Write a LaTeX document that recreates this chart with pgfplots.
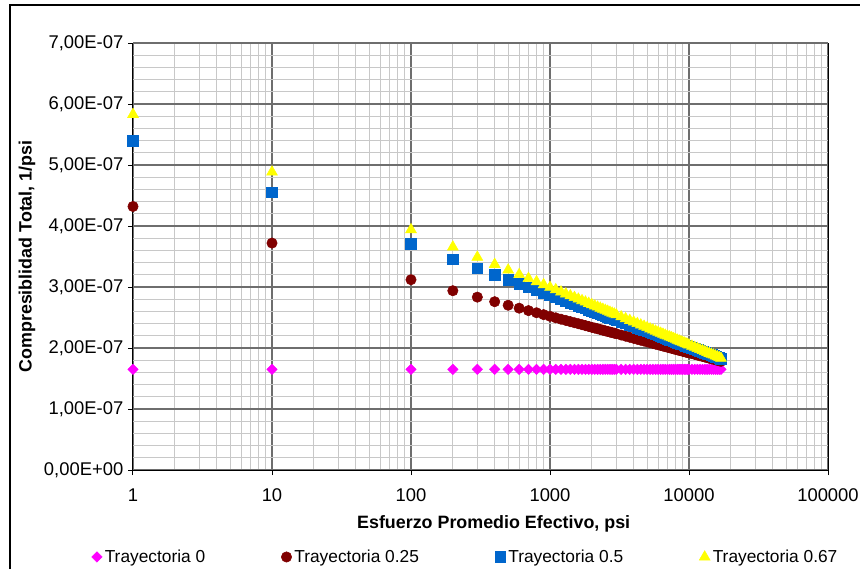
\documentclass[border=0pt]{standalone}
\usepackage{fontspec}
\setmainfont{Liberation Sans}
\usepackage{pgfplots}
\pgfplotsset{compat=1.18}
\usepackage{pgfplotstable}

\definecolor{cmag}{RGB}{255,0,255}
\definecolor{cred}{RGB}{128,0,0}
\definecolor{cblue}{RGB}{0,102,204}
\definecolor{cyel}{RGB}{255,255,0}
\definecolor{majgrid}{RGB}{110,110,110}
\definecolor{mingrid}{RGB}{200,200,200}

\pgfplotstableread{
x z r b y
1 1.65 4.320 5.400 5.830
10 1.65 3.720 4.555 4.885
100 1.65 3.120 3.710 3.940
200 1.65 2.939 3.456 3.656
300 1.65 2.834 3.307 3.489
400 1.65 2.759 3.201 3.371
500 1.65 2.701 3.119 3.279
600 1.65 2.653 3.052 3.205
700 1.65 2.613 2.996 3.141
800 1.65 2.578 2.947 3.087
900 1.65 2.547 2.904 3.038
1000 1.65 2.520 2.865 2.995
1100 1.65 2.495 2.830 2.956
1200 1.65 2.472 2.798 2.920
1300 1.65 2.452 2.769 2.887
1400 1.65 2.432 2.742 2.857
1500 1.65 2.414 2.716 2.829
1600 1.65 2.398 2.693 2.802
1700 1.65 2.382 2.670 2.777
1800 1.65 2.367 2.649 2.754
1900 1.65 2.353 2.629 2.732
2000 1.65 2.339 2.611 2.711
2100 1.65 2.327 2.593 2.690
2200 1.65 2.315 2.576 2.671
2300 1.65 2.303 2.559 2.653
2400 1.65 2.292 2.544 2.636
2500 1.65 2.281 2.529 2.619
2600 1.65 2.271 2.514 2.603
2700 1.65 2.261 2.500 2.587
2800 1.65 2.252 2.487 2.572
2900 1.65 2.243 2.474 2.558
3000 1.65 2.234 2.462 2.544
3250 1.65 2.213 2.432 2.511
3500 1.65 2.194 2.405 2.481
3750 1.65 2.176 2.380 2.453
4000 1.65 2.159 2.356 2.426
4250 1.65 2.143 2.334 2.401
4500 1.65 2.128 2.313 2.378
4750 1.65 2.114 2.293 2.356
5000 1.65 2.101 2.274 2.335
5250 1.65 2.088 2.256 2.314
5500 1.65 2.076 2.239 2.295
5750 1.65 2.064 2.223 2.277
6000 1.65 2.053 2.207 2.260
6250 1.65 2.042 2.192 2.243
6500 1.65 2.032 2.178 2.227
6750 1.65 2.022 2.164 2.211
7000 1.65 2.013 2.151 2.196
7250 1.65 2.004 2.138 2.182
7500 1.65 1.995 2.126 2.168
7750 1.65 1.986 2.114 2.155
8000 1.65 1.978 2.102 2.142
8250 1.65 1.970 2.091 2.129
8500 1.65 1.962 2.080 2.117
8750 1.65 1.955 2.069 2.105
9000 1.65 1.947 2.059 2.093
9250 1.65 1.940 2.049 2.082
9500 1.65 1.933 2.039 2.071
9750 1.65 1.927 2.029 2.060
10000 1.65 1.920 2.020 2.050
10500 1.65 1.907 2.002 2.030
11000 1.65 1.895 1.985 2.011
11500 1.65 1.884 1.969 1.993
12000 1.65 1.872 1.953 1.975
12500 1.65 1.862 1.938 1.958
13000 1.65 1.852 1.924 1.942
13500 1.65 1.842 1.910 1.927
14000 1.65 1.832 1.897 1.912
14500 1.65 1.823 1.884 1.898
15000 1.65 1.814 1.871 1.884
15500 1.65 1.806 1.859 1.870
16000 1.65 1.798 1.848 1.857
16500 1.65 1.790 1.836 1.844
17000 1.65 1.782 1.825 1.832
}\datatable

\begin{document}
\begin{tikzpicture}
\useasboundingbox (0pt,0pt) rectangle (645pt,426.75pt);
\draw[line width=1pt] (7.5pt,0pt) -- (7.5pt,423pt) -- (646pt,423pt);
\begin{axis}[
  at={(99.75pt,74.25pt)}, anchor=south west,
  scale only axis, width=521.25pt, height=320.25pt,
  xmode=log, log basis x=10,
  xmin=1, xmax=100000, ymin=0, ymax=7,
  clip=false,
  axis lines*=left,
  axis line style={-, black, line width=0.75pt},
  tick align=outside,
  major tick length=3.75pt, minor tick length=0pt,
  tick style={black, line width=0.75pt},
  xtick={1,10,100,1000,10000,100000},
  xticklabels={1,10,100,1000,10000,100000},
  minor xtick={2,3,4,5,6,7,8,9,20,30,40,50,60,70,80,90,200,300,400,500,600,700,800,900,2000,3000,4000,5000,6000,7000,8000,9000,20000,30000,40000,50000,60000,70000,80000,90000},
  ytick={0,1,2,3,4,5,6,7},
  yticklabels={{0,00E+00},{1,00E-07},{2,00E-07},{3,00E-07},{4,00E-07},{5,00E-07},{6,00E-07},{7,00E-07}},
  minor y tick num=4,
  grid=both,
  major grid style={majgrid, line width=0.9pt},
  minor grid style={mingrid, line width=0.75pt},
  ticklabel style={font=\fontsize{13.8}{15}\selectfont},
  xticklabel style={yshift=-6.5pt},
  xlabel={Esfuerzo Promedio Efectivo, psi},
  ylabel={Compresiblidad Total, 1/psi},
  label style={font=\bfseries\fontsize{13.4}{15}\selectfont},
  xlabel style={at={(axis description cs:0.519,-0.127)}, anchor=center},
  ylabel style={at={(axis description cs:-0.1525,0.5)}, anchor=center},
  legend columns=4,
  legend style={at={(axis description cs:0.479,-0.2037)}, anchor=center,
    draw=none, fill=none, font=\fontsize{13}{14}\selectfont,
    /tikz/every even column/.append style={column sep=55pt}},
  legend image code/.code={\draw[#1] plot coordinates {(0cm,0cm)};},
]
\addplot[only marks, color=cmag, mark=square*, mark size=2.75pt,
  mark options={rotate=45, fill=cmag, draw=cmag}] table[x=x,y=z]{\datatable};
\addlegendentry{Trayectoria 0}
\addplot[only marks, color=cred, mark=*, mark size=3.9pt,
  mark options={fill=cred, draw=cred}] table[x=x,y=r]{\datatable};
\addlegendentry{Trayectoria 0.25}
\addplot[only marks, color=cblue, mark=square*, mark size=4pt,
  mark options={fill=cblue, draw=cblue}] table[x=x,y=b]{\datatable};
\addlegendentry{Trayectoria 0.5}
\addplot[only marks, color=cyel, mark=triangle*, mark size=4.7pt,
  mark options={fill=cyel, draw=cyel}] table[x=x,y=y]{\datatable};
\addlegendentry{Trayectoria 0.67}
\draw[black, line width=0.75pt] (rel axis cs:1,0) -- (rel axis cs:1,1);
\end{axis}
\end{tikzpicture}
\end{document}
